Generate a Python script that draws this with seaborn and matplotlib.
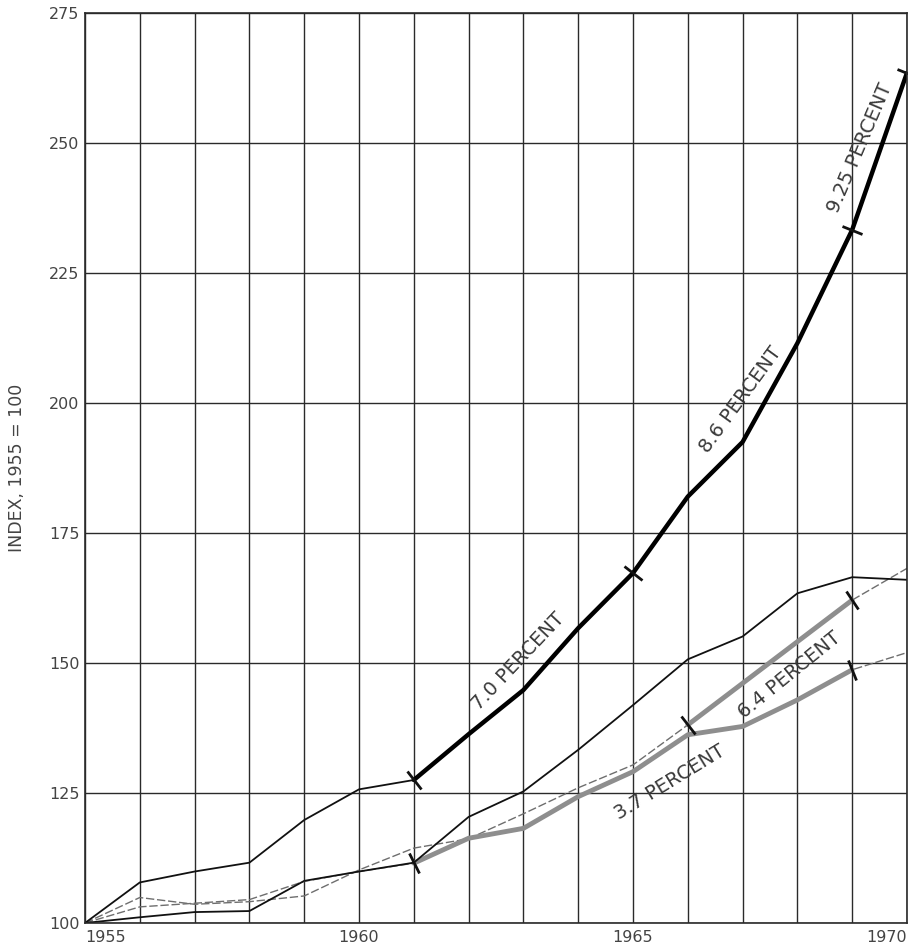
import numpy as np
import pandas as pd
import matplotlib
matplotlib.use("Agg")
import matplotlib.pyplot as plt
from matplotlib.markers import MarkerStyle
from matplotlib.transforms import Affine2D
import seaborn as sns

# values (index, 1955 = 100)
years = list(range(1955, 1971))
upper_early = [100, 107.8, 109.9, 111.6, 119.8, 125.7, 127.5]            # 1955-1961
fast_growth = [127.5, 136.3, 144.8, 156.7, 167.3, 182.0, 192.5, 211.5,
               233.3, 263.5]                                              # 1961-1970
middle = [100, 101.1, 102.1, 102.3, 108.1, 109.9, 111.6, 120.4, 125.3, 133.3,
          141.9, 150.7, 155.1, 163.4, 166.5, 166.0]
gray_upper = [100, 104.9, 103.6, 104.1, 105.2, 110.2, 114.4, 116.2, 121.0,
              126.0, 130.4, 138.1, 146.1, 154.1, 162.1, 168.2]
gray_lower = [100, 103.1, 103.8, 104.5, 108.0, 109.9, 111.5, 116.3, 118.2,
              124.3, 129.1, 136.2, 137.8, 142.9, 148.7, 152.0]

# labels along the curves: text, x, y, angle
labels = ["7.0 PERCENT", "8.6 PERCENT", "9.25 PERCENT", "6.4 PERCENT", "3.7 PERCENT"]
label_x = [1962.90, 1966.97, 1969.14, 1967.85, 1965.68]
label_y = [150.3, 200.6, 249.0, 147.6, 127.1]
label_rot = [46.7, 54, 67, 39, 31.5]

yticks = [100, 125, 150, 175, 200, 225, 250, 275]
xtick_labels = {1955: "1955", 1960: "1960", 1965: "1965", 1970: "1970"}

sns.set_style("white")
plt.rcParams['font.family'] = ['DejaVu Sans']

fig, ax = plt.subplots(figsize=(9.11, 9.49), dpi=100)
fig.subplots_adjust(left=0.0933, right=0.9956, bottom=0.0274, top=0.9863)
ax.set_xlim(1955, 1970)
ax.set_ylim(100, 275)

# grid
ax.set_xticks(years)
ax.set_xticklabels([xtick_labels.get(y, "") for y in years])
ax.set_yticks(yticks)
ax.grid(True, color='#2a2a2a', lw=1.0)
ax.set_axisbelow(True)
for s in ax.spines.values():
    s.set_color('#2a2a2a')
    s.set_linewidth(1.2)
ax.tick_params(length=0, labelsize=11.5, labelcolor='#444444')
ax.tick_params(axis='x', pad=5)
ax.tick_params(axis='y', pad=4)
xl = ax.get_xticklabels()
xl[0].set_ha('left')
xl[-1].set_ha('right')

gray = '#8e8e8e'
dash = (0, (6, 2))

# thin gray paths
sns.lineplot(x=years, y=gray_upper, ax=ax, color='#6e6e6e', lw=1.0, linestyle=dash)
sns.lineplot(x=years, y=gray_lower, ax=ax, color='#6e6e6e', lw=1.0, linestyle=dash)
# thick gray segments
sns.lineplot(x=years[11:15], y=gray_upper[11:15], ax=ax, color=gray, lw=3.5)
sns.lineplot(x=years[6:15], y=gray_lower[6:15], ax=ax, color=gray, lw=3.5)
# thin black lines
sns.lineplot(x=years, y=middle, ax=ax, color='#111111', lw=1.3)
sns.lineplot(x=years[:7], y=upper_early, ax=ax, color='#111111', lw=1.3)
# thick black line
sns.lineplot(x=years[6:], y=fast_growth, ax=ax, color='#000000', lw=3.2)

# short cross ticks perpendicular to the curves
def cross_ticks(xs, ys, idx):
    pts = ax.transData.transform(np.column_stack([xs, ys]))
    for i in idx:
        a = pts[max(i - 1, 0)]
        b = pts[min(i + 1, len(pts) - 1)]
        ang = np.degrees(np.arctan2(b[1] - a[1], b[0] - a[0]))
        m = MarkerStyle('|', transform=Affine2D().rotate_deg(ang))
        ax.plot(xs[i], ys[i], marker=m, ms=16, mew=2.0, color='#111111')

cross_ticks(years[6:], fast_growth, [0, 4, 8, 9])
cross_ticks(years, middle, [6])
cross_ticks(years, gray_upper, [11, 14])
cross_ticks(years, gray_lower, [14])

for t, x, y, r in zip(labels, label_x, label_y, label_rot):
    ax.text(x, y, t, rotation=r, ha='center', va='center', fontsize=14,
            color='#3a3a3a', rotation_mode='anchor')

ax.set_xlabel("")
ax.set_ylabel("INDEX, 1955 = 100", fontsize=12.5, color='#444444')
ax.yaxis.set_label_coords(-0.072, 0.5)

fig.savefig("out.png", dpi=100, facecolor='white')
